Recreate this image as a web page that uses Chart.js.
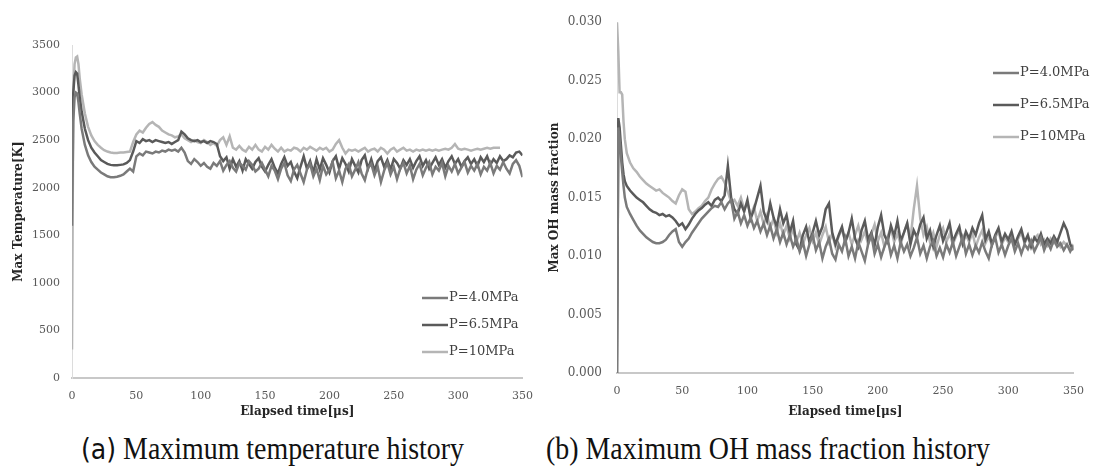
<!DOCTYPE html>
<html>
<head>
<meta charset="utf-8">
<script src="https://cdn.jsdelivr.net/npm/chart.js@4.4.1/dist/chart.umd.min.js"></script>
<style>
    body { margin: 0; background: #fff; width: 1096px; height: 476px; position: relative; overflow: hidden; }
    #tempChart { position: absolute; left: 0; top: 0; }
    #ohChart { position: absolute; left: 545px; top: 0; }
    .caption { position: absolute; top: 431px; font-family: "Liberation Serif"; font-size: 31px; color: #111; white-space: nowrap; transform: scaleX(0.9); transform-origin: left top; }
    .caption .tag { font-family: "DejaVu Sans"; font-size: 28px; }
</style>
</head>
<body>
<canvas id="tempChart" width="545" height="425"></canvas>
<canvas id="ohChart" width="551" height="425"></canvas>
<div class="caption" style="left:81px"><span class="tag">(a)</span> Maximum temperature history</div>
<div class="caption" style="left:546px">(b) Maximum OH mass fraction history</div>
<script>
const seriesLabels = ['P=4.0MPa', 'P=6.5MPa', 'P=10MPa'];
const seriesColors = ['#7a7a7a', '#5a5a5a', '#b5b5b5'];

const timeUs = [
    0, 1, 2, 3, 4, 5, 6, 7.5, 10,
    12.5, 15, 17.5, 20, 22.5, 25, 27.5, 30,
    32.5, 35, 37.5, 40, 42.5, 45, 47.5, 50,
    52.5, 55, 57.5, 60, 62.5, 65, 67.5, 70,
    72.5, 75, 77.5, 80, 82.5, 85, 87.5, 90,
    92.5, 95, 97.5, 100, 102.5, 105, 107.5, 110,
    112.5, 115, 117.5, 120, 122.5, 125, 127.5, 130,
    132.5, 135, 137.5, 140, 142.5, 145, 147.5, 150,
    152.5, 155, 157.5, 160, 162.5, 165, 167.5, 170,
    172.5, 175, 177.5, 180, 182.5, 185, 187.5, 190,
    192.5, 195, 197.5, 200, 202.5, 205, 207.5, 210,
    212.5, 215, 217.5, 220, 222.5, 225, 227.5, 230,
    232.5, 235, 237.5, 240, 242.5, 245, 247.5, 250,
    252.5, 255, 257.5, 260, 262.5, 265, 267.5, 270,
    272.5, 275, 277.5, 280, 282.5, 285, 287.5, 290,
    292.5, 295, 297.5, 300, 302.5, 305, 307.5, 310,
    312.5, 315, 317.5, 320, 322.5, 325, 327.5, 330,
    332.5, 335, 337.5, 340, 342.5, 345, 347.5, 350
];

// max temperature [K]
const temp40 = [
    1600, 2700, 2950, 3000, 2990, 2900, 2780, 2620, 2450,
    2340, 2270, 2220, 2190, 2160, 2140, 2120, 2110,
    2110, 2115, 2125, 2140, 2170, 2200, 2170, 2330,
    2360, 2340, 2380, 2370, 2360, 2380, 2370, 2390,
    2380, 2400, 2390, 2400, 2380, 2420, 2370, 2280,
    2250, 2300, 2270, 2230, 2260, 2220, 2200, 2260,
    2230, 2280, 2180, 2240, 2280, 2210, 2170, 2260,
    2230, 2190, 2280, 2240, 2170, 2200, 2260, 2190,
    2120, 2230, 2180, 2090, 2200, 2260, 2130, 2070,
    2190, 2240, 2150, 2060, 2190, 2250, 2120, 2200,
    2080, 2230, 2140, 2190, 2270, 2100, 2180, 2060,
    2200, 2250, 2120, 2190, 2270, 2150, 2080, 2210,
    2250, 2130, 2220, 2060, 2180, 2260, 2140, 2220,
    2090, 2200, 2260, 2150, 2230, 2090, 2190, 2250,
    2130, 2210, 2270, 2140, 2220, 2180, 2260, 2120,
    2230, 2170, 2250, 2150, 2210, 2270, 2160, 2230,
    2180, 2250, 2140, 2220, 2180, 2260, 2150, 2230,
    2190, 2270, 2200, 2150, 2250, 2290, 2230, 2110
];
const temp65 = [
    2400, 3000, 3180, 3215, 3200, 3080, 2950, 2800, 2620,
    2500, 2420, 2370, 2330, 2290, 2270, 2250, 2240,
    2235, 2235, 2240, 2245, 2260, 2290, 2380, 2490,
    2470, 2510, 2490, 2500, 2480, 2500, 2490, 2480,
    2470, 2480, 2460, 2480, 2500, 2590, 2560, 2520,
    2500, 2490, 2500, 2480, 2490, 2470, 2490, 2480,
    2460, 2330, 2280, 2320, 2200, 2300, 2220, 2280,
    2180, 2300, 2250, 2200, 2270, 2310, 2220, 2170,
    2240, 2300, 2210, 2150, 2250, 2320, 2230, 2270,
    2170, 2100, 2220, 2330, 2200, 2280, 2160, 2300,
    2190, 2310, 2240, 2160, 2280, 2330, 2200, 2310,
    2250, 2170, 2300, 2230, 2160, 2290, 2340, 2200,
    2300, 2180, 2280, 2320, 2220, 2290, 2190, 2300,
    2260, 2200, 2290, 2240, 2300, 2210, 2280, 2330,
    2230, 2290, 2200, 2260, 2320, 2240, 2300, 2210,
    2280, 2330, 2250, 2300, 2220, 2280, 2320, 2250,
    2300, 2230, 2320, 2270, 2330, 2240, 2300, 2260,
    2330, 2280, 2300, 2340, 2320, 2370, 2380, 2340
];
const temp10 = [
    300, 3000, 3300, 3370, 3380, 3300, 3150, 2980, 2780,
    2640, 2550, 2490, 2450, 2420, 2395, 2380, 2370,
    2365, 2365, 2370, 2370, 2375, 2380, 2480, 2560,
    2600, 2580, 2630, 2670, 2690, 2660, 2640, 2600,
    2580, 2560, 2550, 2530, 2540, 2560, 2520, 2500,
    2480, 2500, 2480, 2470, 2500, 2480, 2450, 2470,
    2440, 2500, 2530, 2450, 2540, 2420, 2400, 2440,
    2400, 2380, 2430, 2400, 2450, 2400, 2380, 2430,
    2400, 2450, 2410, 2380, 2420, 2380, 2400, 2390,
    2420, 2410, 2380, 2420, 2400, 2430, 2410, 2390,
    2420, 2400, 2420, 2380, 2400, 2460, 2500, 2420,
    2360, 2400, 2390, 2400, 2380, 2400, 2420, 2380,
    2400, 2410, 2380, 2420, 2400, 2360, 2400, 2420,
    2380, 2400, 2420, 2390, 2400, 2380, 2400, 2390,
    2400, 2390, 2400, 2390, 2400, 2390, 2400, 2410,
    2400, 2420, 2460, 2410, 2400, 2410, 2400, 2390,
    2400, 2410, 2400, 2410, 2420, 2410, 2420, 2420,
    2420, null, null, null, null, null, null, null
];

// max OH mass fraction
const oh40 = [
    0, 0.0210, 0.0200, 0.0185, 0.0172, 0.0160, 0.0150, 0.0142, 0.0136,
    0.0131, 0.0126, 0.0122, 0.0119, 0.0116, 0.0114, 0.0112, 0.0111,
    0.0111, 0.0112, 0.0114, 0.0118, 0.0121, 0.0123, 0.0112, 0.0108,
    0.0112, 0.0115, 0.0120, 0.0124, 0.0128, 0.0132, 0.0135, 0.0138,
    0.0141, 0.0143, 0.0142, 0.0146, 0.0140, 0.0145, 0.0148, 0.0132,
    0.0138, 0.0128, 0.0135, 0.0126, 0.0133, 0.0124, 0.0130, 0.0121,
    0.0128, 0.0118, 0.0126, 0.0115, 0.0123, 0.0112, 0.0120, 0.0110,
    0.0118, 0.0108, 0.0115, 0.0104, 0.0112, 0.0100, 0.0110, 0.0118,
    0.0105, 0.0112, 0.0098, 0.0108, 0.0115, 0.0102, 0.0097, 0.0110,
    0.0104, 0.0115, 0.0100, 0.0108, 0.0098, 0.0112, 0.0104, 0.0096,
    0.0110, 0.0118, 0.0102, 0.0110, 0.0099, 0.0108, 0.0115, 0.0101,
    0.0109, 0.0098, 0.0112, 0.0104, 0.0110, 0.0100, 0.0107, 0.0116,
    0.0102, 0.0109, 0.0098, 0.0108, 0.0113, 0.0100, 0.0107, 0.0099,
    0.0110, 0.0103, 0.0112, 0.0100, 0.0108, 0.0116, 0.0102, 0.0110,
    0.0101, 0.0109, 0.0103, 0.0112, 0.0104, 0.0098, 0.0110, 0.0116,
    0.0103, 0.0110, 0.0101, 0.0109, 0.0115, 0.0104, 0.0111, 0.0102,
    0.0110, 0.0106, 0.0113, 0.0104, 0.0110, 0.0116, 0.0105, 0.0112,
    0.0106, 0.0114, 0.0108, 0.0111, 0.0105, 0.0110, 0.0104, 0.0109
];
const oh65 = [
    0, 0.0218, 0.0210, 0.0195, 0.0180, 0.0170, 0.0164, 0.0160, 0.0156,
    0.0153, 0.0150, 0.0148, 0.0146, 0.0143, 0.0140, 0.0138, 0.0137,
    0.0135, 0.0136, 0.0134, 0.0135, 0.0133, 0.0130, 0.0126, 0.0128,
    0.0123, 0.0127, 0.0132, 0.0136, 0.0139, 0.0141, 0.0144, 0.0146,
    0.0143, 0.0148, 0.0150, 0.0147, 0.0152, 0.0177, 0.0150, 0.0140,
    0.0136, 0.0145, 0.0138, 0.0148, 0.0132, 0.0140, 0.0150, 0.0160,
    0.0138, 0.0130, 0.0145, 0.0133, 0.0125, 0.0140, 0.0128, 0.0135,
    0.0120, 0.0130, 0.0110, 0.0105, 0.0118, 0.0125, 0.0112, 0.0120,
    0.0130, 0.0118, 0.0125, 0.0140, 0.0145, 0.0120, 0.0110, 0.0118,
    0.0125, 0.0112, 0.0120, 0.0132, 0.0115, 0.0108, 0.0122, 0.0130,
    0.0114, 0.0120, 0.0109, 0.0125, 0.0135, 0.0118, 0.0112, 0.0126,
    0.0117, 0.0130, 0.0113, 0.0120, 0.0128, 0.0110, 0.0122, 0.0116,
    0.0127, 0.0133, 0.0115, 0.0122, 0.0108, 0.0118, 0.0126, 0.0113,
    0.0120, 0.0128, 0.0112, 0.0119, 0.0125, 0.0111, 0.0121, 0.0115,
    0.0124, 0.0118, 0.0128, 0.0135, 0.0114, 0.0121, 0.0110, 0.0118,
    0.0124, 0.0112, 0.0119, 0.0114, 0.0121, 0.0110, 0.0117, 0.0123,
    0.0112, 0.0118, 0.0108, 0.0116, 0.0112, 0.0119, 0.0110, 0.0115,
    0.0111, 0.0117, 0.0112, 0.0120, 0.0128, 0.0122, 0.0110, 0.0105
];
const oh10 = [
    0.0300, 0.0275, 0.0240, 0.0240, 0.0238, 0.0215, 0.0200, 0.0188, 0.0180,
    0.0175, 0.0172, 0.0168, 0.0165, 0.0162, 0.0160, 0.0158, 0.0156,
    0.0157, 0.0154, 0.0152, 0.0150, 0.0147, 0.0145, 0.0152, 0.0157,
    0.0155, 0.0140, 0.0136, 0.0138, 0.0141, 0.0143, 0.0147, 0.0150,
    0.0157, 0.0162, 0.0166, 0.0168, 0.0163, 0.0155, 0.0146, 0.0148,
    0.0143, 0.0150, 0.0140, 0.0145, 0.0135, 0.0142, 0.0130, 0.0138,
    0.0127, 0.0135, 0.0124, 0.0132, 0.0120, 0.0128, 0.0118, 0.0126,
    0.0115, 0.0123, 0.0112, 0.0120, 0.0110, 0.0118, 0.0124, 0.0113,
    0.0120, 0.0110, 0.0118, 0.0125, 0.0112, 0.0119, 0.0108, 0.0117,
    0.0123, 0.0112, 0.0120, 0.0110, 0.0118, 0.0126, 0.0114, 0.0121,
    0.0110, 0.0119, 0.0127, 0.0113, 0.0120, 0.0108, 0.0117, 0.0124,
    0.0112, 0.0119, 0.0110, 0.0120, 0.0128, 0.0115, 0.0140, 0.0160,
    0.0132, 0.0118, 0.0125, 0.0112, 0.0120, 0.0108, 0.0118, 0.0124,
    0.0112, 0.0119, 0.0110, 0.0117, 0.0122, 0.0110, 0.0118, 0.0112,
    0.0120, 0.0108, 0.0116, 0.0122, 0.0111, 0.0117, 0.0109, 0.0116,
    0.0121, 0.0110, 0.0116, 0.0112, 0.0118, 0.0110, 0.0115, 0.0120,
    0.0111, 0.0116, 0.0110, 0.0115, 0.0118, 0.0110, 0.0114, 0.0109,
    0.0115, 0.0111, 0.0114, 0.0108, 0.0112, 0.0109, 0.0107, 0.0110
];

const tickColor = '#595959';
const titleColor = '#262626';

// legend drawn inside the plot, like the original figure
const insideLegend = {
    id: 'insideLegend',
    afterDraw(chart, args, opts) {
        const ctx = chart.ctx;
        ctx.save();
        ctx.font = '13px "DejaVu Serif"';
        ctx.textBaseline = 'middle';
        chart.data.datasets.forEach((ds, i) => {
            const y = opts.y + i * opts.gap;
            ctx.strokeStyle = ds.borderColor;
            ctx.lineWidth = 2.5;
            ctx.beginPath();
            ctx.moveTo(opts.x, y);
            ctx.lineTo(opts.x + opts.len, y);
            ctx.stroke();
            ctx.fillStyle = '#404040';
            ctx.fillText(ds.label, opts.x + opts.len + 1, y);
        });
        ctx.restore();
    }
};

function montarDatasets(lista) {
    return lista.map((serie, i) => ({
        label: seriesLabels[i],
        data: timeUs.map((t, j) => ({ x: t, y: serie[j] })),
        borderColor: seriesColors[i],
        backgroundColor: seriesColors[i],
        borderWidth: 2.5,
        pointRadius: 0,
        tension: 0,
        spanGaps: false
    }));
}

function montarGrafico(id, lista, cfg) {
    return new Chart(document.getElementById(id), {
        type: 'line',
        data: { datasets: montarDatasets(lista) },
        plugins: [insideLegend],
        options: {
            responsive: false,
            animation: false,
            devicePixelRatio: 1,
            layout: { padding: cfg.padding },
            plugins: {
                legend: { display: false },
                tooltip: { enabled: false },
                insideLegend: cfg.legend
            },
            scales: {
                x: {
                    type: 'linear',
                    min: 0,
                    max: 350,
                    ticks: { stepSize: 50, color: tickColor, font: { family: 'DejaVu Serif', size: 11 }, padding: 12, maxRotation: 0 },
                    grid: { display: false, drawTicks: false },
                    border: { display: true, color: '#c8c8c8', width: 2 },
                    title: { display: true, text: 'Elapsed time[μs]', color: titleColor, font: { family: 'DejaVu Serif', size: 12, weight: 'bold' }, padding: { top: 0, bottom: 6 } },
                    afterFit(s) { s.height = cfg.xHeight; }
                },
                y: {
                    min: cfg.yMin,
                    max: cfg.yMax,
                    ticks: { stepSize: cfg.yStep, color: tickColor, font: { family: 'DejaVu Serif', size: cfg.yFont }, padding: cfg.yPad, callback: cfg.yFormat },
                    grid: { display: false, drawTicks: false },
                    border: { display: true, color: '#dcdcdc', width: 1 },
                    title: { display: true, text: cfg.yTitle, color: titleColor, font: { family: 'DejaVu Serif', size: 12, weight: 'bold' }, padding: { top: cfg.yTitlePad, bottom: 0 } },
                    afterFit(s) { s.width = 72; }
                }
            }
        }
    });
}

montarGrafico('tempChart', [temp40, temp65, temp10], {
    padding: { top: 45, right: 14, bottom: 0, left: 0 },
    xHeight: 47,
    yMin: 0, yMax: 3500, yStep: 500, yFont: 11, yPad: 12,
    yFormat: v => v,
    yTitle: 'Max Temperature[K]',
    yTitlePad: 12,
    legend: { x: 422, y: 298, gap: 27, len: 26 }
});

montarGrafico('ohChart', [oh40, oh65, oh10], {
    padding: { top: 13, right: 19, bottom: 0, left: 0 },
    xHeight: 52,
    yMin: 0, yMax: 0.03, yStep: 0.005, yFont: 12, yPad: 15,
    yFormat: v => v.toFixed(3),
    yTitle: 'Max OH mass fraction',
    yTitlePad: 3,
    legend: { x: 448, y: 73, gap: 32, len: 26 }
});
</script>
</body>
</html>
